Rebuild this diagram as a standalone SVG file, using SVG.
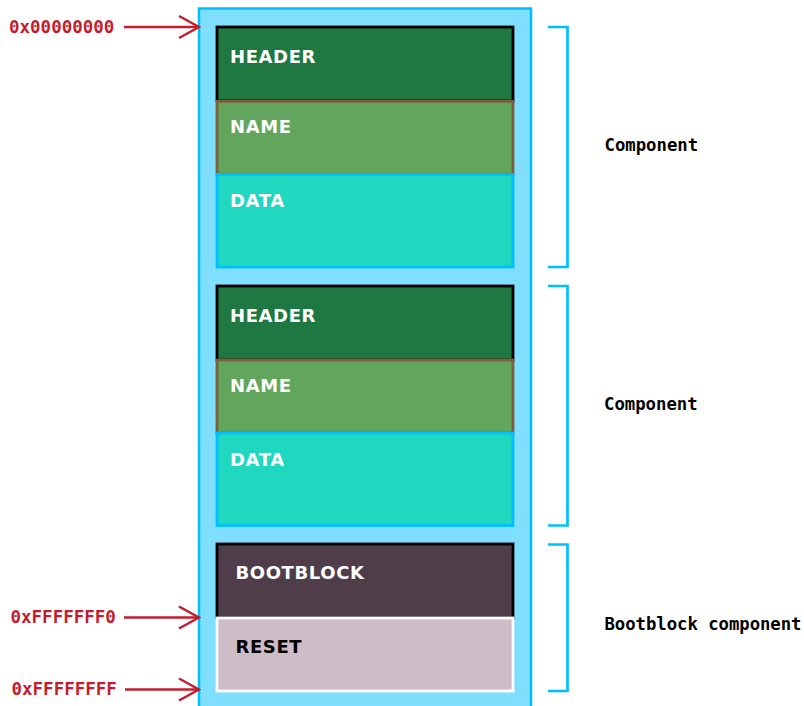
<svg xmlns="http://www.w3.org/2000/svg" width="804" height="706" viewBox="0 0 804 706">
<defs>
<style>
.lbl{font-family:"DejaVu Sans","Liberation Sans",sans-serif;font-weight:bold;font-size:18px;letter-spacing:0.6px}
.w{fill:#ffffff}
.k{fill:#000000}
.addr{font-family:"DejaVu Sans Mono","Liberation Mono",monospace;font-weight:bold;font-size:17.5px;fill:#c41e2e}
.side{font-family:"DejaVu Sans Mono","Liberation Mono",monospace;font-weight:bold;font-size:17.3px;fill:#000000}
.hdr{fill:#1f7741;stroke:#000000;stroke-width:2.8}
.nam{fill:#62a55c;stroke:#7d5d3b;stroke-width:2.8}
.dat{fill:#20d7c0;stroke:#00bfff;stroke-width:2.8}
.boot{fill:#4f3d4a;stroke:#000000;stroke-width:2.8}
.rst{fill:#cebcc7;stroke:#ffffff;stroke-width:2.8}
.arrow{stroke:#c41e2e;stroke-width:2.5;fill:none}
.brk{stroke:#00bfff;stroke-width:2.7;fill:none}
</style>
<marker id="chev" viewBox="-23 -13 25 26" markerWidth="25" markerHeight="26" refX="0" refY="0" markerUnits="userSpaceOnUse" orient="auto">
<path d="M-20,-11 L0,0 L-20,11" fill="none" stroke="#c41e2e" stroke-width="2.5"/>
</marker>
</defs>
<rect width="804" height="706" fill="#ffffff"/>
<g id="memory">
<rect x="199" y="8.5" width="332" height="720" fill="#80dfff" stroke="#00bfff" stroke-width="2.5"/>
</g>
<g id="component1">
<rect class="hdr" x="217" y="27" width="296" height="74"/>
<rect class="nam" x="217" y="101.3" width="296" height="73"/>
<rect class="dat" x="217" y="174.5" width="296" height="92.5"/>
<text class="lbl w" x="230" y="62.7">HEADER</text>
<text class="lbl w" x="230" y="133.3">NAME</text>
<text class="lbl w" x="230" y="206.8">DATA</text>
</g>
<g id="component2">
<rect class="hdr" x="217" y="286" width="296" height="74"/>
<rect class="nam" x="217" y="360" width="296" height="73"/>
<rect class="dat" x="217" y="433" width="296" height="92.5"/>
<text class="lbl w" x="230" y="321.5">HEADER</text>
<text class="lbl w" x="230" y="392">NAME</text>
<text class="lbl w" x="230" y="465.5">DATA</text>
</g>
<g id="bootblock">
<rect class="boot" x="217" y="544" width="296" height="74"/>
<rect class="rst" x="217" y="618" width="296" height="73"/>
<text class="lbl w" x="235.5" y="579.3">BOOTBLOCK</text>
<text class="lbl k" x="235.5" y="653.3">RESET</text>
</g>
<g id="connectors">
<line class="arrow" x1="124" y1="27" x2="199" y2="27" marker-end="url(#chev)"/>
<line class="arrow" x1="124" y1="617.5" x2="199" y2="617.5" marker-end="url(#chev)"/>
<line class="arrow" x1="125" y1="689.5" x2="199" y2="689.5" marker-end="url(#chev)"/>
<path class="brk" d="M548,27 H567.5 V267 H548"/>
<path class="brk" d="M548,286 H567.5 V525.5 H548"/>
<path class="brk" d="M548,544.5 H567.5 V691 H548"/>
</g>
<g id="labels">
<text class="addr" x="9" y="33.3">0x00000000</text>
<text class="addr" x="10.5" y="622.7">0xFFFFFFF0</text>
<text class="addr" x="11.5" y="695">0xFFFFFFFF</text>
<text class="side" x="604.5" y="150.5">Component</text>
<text class="side" x="604" y="409.5">Component</text>
<text class="side" x="604.5" y="630" textLength="197">Bootblock component</text>
</g>
</svg>
